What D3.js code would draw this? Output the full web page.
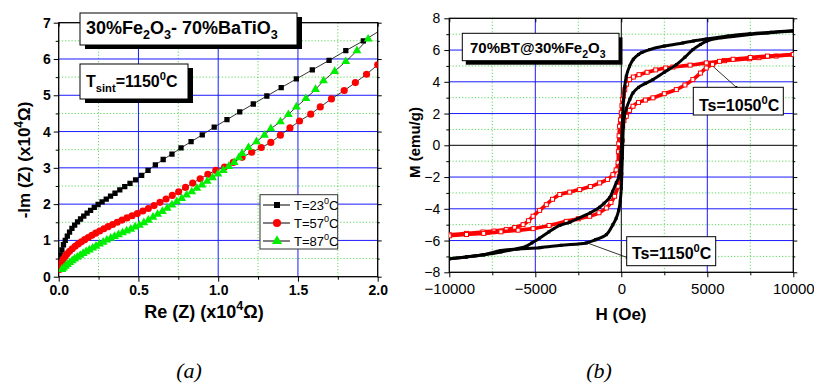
<!DOCTYPE html>
<html>
<head>
<meta charset="utf-8">
<script src="https://cdn.jsdelivr.net/npm/d3@7"></script>
<style>
  body { margin: 0; background: #fff; }
  svg { display: block; }
  svg text { font-family: "Liberation Sans", Arial, Helvetica, sans-serif; }
</style>
</head>
<body>
<svg id="fig" width="814" height="385"></svg>
<script>
// ---------- panel (a): impedance, x in 1e4 ohm ----------
const zTicksX = [0, 0.5, 1.0, 1.5, 2.0];
const zMinorX = [0.25, 0.75, 1.25, 1.75];
const zTicksY = [0, 1, 2, 3, 4, 5, 6, 7];
const zMinorY = [0.5, 1.5, 2.5, 3.5, 4.5, 5.5, 6.5];

const t23 = [[0.002,0.32],[0.006,0.45],[0.012,0.6],[0.02,0.74],[0.03,0.88],[0.041,1.0],[0.054,1.12],
  [0.068,1.23],[0.083,1.33],[0.1,1.42],[0.118,1.51],[0.137,1.59],[0.157,1.67],[0.178,1.75],[0.2,1.83],
  [0.223,1.91],[0.247,1.99],[0.272,2.06],[0.298,2.14],[0.325,2.22],[0.353,2.3],[0.383,2.39],[0.414,2.48],
  [0.447,2.57],[0.482,2.67],[0.52,2.79],[0.56,2.93],[0.606,3.08],[0.655,3.23],[0.71,3.38],[0.767,3.55],
  [0.83,3.72],[0.9,3.91],[0.975,4.12],[1.055,4.33],[1.135,4.54],[1.22,4.76],[1.305,4.98],[1.395,5.21],
  [1.49,5.45],[1.59,5.7],[1.695,5.96],[1.8,6.23],[1.91,6.5],[2.02,6.8]];
const t57 = [[0.005,0.2],[0.01,0.3],[0.018,0.4],[0.028,0.48],[0.04,0.56],[0.053,0.63],[0.068,0.7],
  [0.085,0.77],[0.103,0.84],[0.122,0.9],[0.142,0.96],[0.163,1.02],[0.185,1.08],[0.208,1.14],[0.232,1.2],
  [0.257,1.26],[0.283,1.32],[0.31,1.38],[0.338,1.44],[0.367,1.5],[0.397,1.56],[0.428,1.62],[0.46,1.68],
  [0.493,1.74],[0.527,1.81],[0.562,1.88],[0.598,1.96],[0.635,2.05],[0.673,2.14],[0.712,2.24],[0.752,2.34],
  [0.795,2.46],[0.84,2.58],[0.887,2.7],[0.935,2.82],[0.985,2.93],[1.04,3.02],[1.094,3.15],[1.15,3.29],
  [1.21,3.43],[1.27,3.56],[1.33,3.7],[1.39,3.9],[1.45,4.1],[1.51,4.29],[1.58,4.48],[1.64,4.68],
  [1.71,4.9],[1.79,5.13],[1.86,5.35],[1.93,5.58],[2.0,5.84]];
const t87 = [[0.02,0.2],[0.03,0.24],[0.042,0.29],[0.055,0.34],[0.07,0.39],[0.085,0.44],[0.1,0.49],
  [0.117,0.54],[0.135,0.59],[0.153,0.64],[0.172,0.69],[0.192,0.74],[0.213,0.79],[0.234,0.84],[0.256,0.9],
  [0.279,0.95],[0.302,1.01],[0.326,1.06],[0.35,1.11],[0.375,1.16],[0.4,1.21],[0.426,1.26],[0.452,1.31],
  [0.479,1.37],[0.506,1.42],[0.534,1.49],[0.562,1.56],[0.591,1.64],[0.62,1.72],[0.65,1.8],[0.68,1.89],
  [0.71,1.98],[0.74,2.07],[0.771,2.16],[0.802,2.25],[0.834,2.34],[0.866,2.44],[0.898,2.53],[0.931,2.63],
  [0.964,2.73],[0.998,2.83],[1.032,2.93],[1.066,3.04],[1.1,3.15],[1.13,3.28],[1.15,3.4],[1.19,3.56],
  [1.24,3.72],[1.29,3.9],[1.33,4.08],[1.39,4.27],[1.44,4.47],[1.49,4.68],[1.55,4.91],[1.61,5.16],
  [1.66,5.4],[1.73,5.66],[1.8,5.93],[1.87,6.23],[1.94,6.55]];

// ---------- panel (b): M-H loops ----------
const hTicks = [-10000, -5000, 0, 5000, 10000];
const hMinor = [-7500, -2500, 2500, 7500];
const mTicks = [-8, -6, -4, -2, 0, 2, 4, 6, 8];
const mMinor = [-7, -5, -3, -1, 1, 3, 5, 7];

const black1150Down = [[10000,7.22],[8700,7.12],[7460,7.02],[6200,6.88],[4940,6.69],[4200,6.57],[3580,6.45],
  [2500,6.25],[1650,6.03],[1200,5.85],[1000,5.72],[700,5.42],[480,4.98],[290,4.35],[200,3.7],
  [130,2.9],[90,2.0],[60,1.2],[30,0.4],[0,-0.4],[-30,-1.0],[-70,-1.6],[-130,-2.0],[-290,-2.35],
  [-500,-2.9],[-680,-3.3],[-1000,-3.65],[-1260,-3.9],[-1800,-4.25],[-2500,-4.6],[-3000,-4.85],
  [-3580,-5.05],[-4200,-5.45],[-4750,-5.85],[-5200,-6.15],[-5530,-6.36],[-6000,-6.5],[-7000,-6.72],
  [-8000,-6.9],[-9000,-7.03],[-10000,-7.15]];
const black1150Up = [[-10000,-7.15],[-9000,-7.03],[-8000,-6.9],[-7000,-6.63],[-6000,-6.53],[-4750,-6.45],
  [-3500,-6.3],[-2030,-6.15],[-1500,-5.95],[-870,-5.63],[-490,-5.0],[-300,-4.6],[-150,-4.1],[-60,-3.5],
  [0,-2.7],[30,-1.8],[60,-0.8],[90,0.3],[120,1.2],[170,1.8],[290,2.3],[500,2.9],[680,3.3],[1000,3.65],
  [1400,3.9],[1840,4.14],[2500,4.6],[3200,5.08],[3700,5.55],[4160,6.03],[4600,6.35],[4940,6.55],
  [5500,6.72],[6500,6.86],[7500,6.98],[8500,7.08],[10000,7.2]];
const red1050Down = [[10000,5.72],[9000,5.62],[8000,5.52],[7460,5.45],[6000,5.33],[4940,5.19],[4000,5.05],
  [3000,4.93],[2580,4.87],[2000,4.75],[1500,4.6],[1030,4.45],[700,4.3],[480,4.14],[300,3.85],[200,3.5],
  [120,3.1],[80,2.9],[40,2.5],[0,2.05],[-50,1.6],[-100,1.2],[-130,0.6],[-150,0.1],[-170,-0.4],
  [-190,-1.1],[-300,-1.55],[-490,-1.85],[-800,-2.15],[-1260,-2.37],[-1800,-2.6],[-2420,-2.79],
  [-3000,-2.95],[-3580,-3.1],[-4000,-3.4],[-4360,-3.74],[-4750,-4.1],[-5130,-4.47],[-5400,-4.75],
  [-5710,-5.0],[-6200,-5.18],[-6690,-5.31],[-7400,-5.4],[-8040,-5.46],[-9000,-5.55],[-10000,-5.63]];
const red1050Up = [[-10000,-5.7],[-9000,-5.62],[-8000,-5.55],[-7000,-5.45],[-6000,-5.35],[-5130,-5.25],
  [-4200,-5.05],[-3200,-4.79],[-2500,-4.63],[-1840,-4.47],[-1300,-4.25],[-870,-3.95],[-600,-3.6],
  [-390,-3.21],[-190,-2.58],[-100,-1.95],[-50,-1.3],[0,-0.5],[40,0.3],[80,1.2],[150,1.55],[290,1.83],
  [480,2.2],[680,2.46],[1000,2.7],[1400,2.85],[1840,2.99],[2500,3.25],[3200,3.51],[3700,3.8],
  [4160,4.14],[4600,4.55],[4940,4.87],[5300,5.1],[5710,5.29],[6500,5.42],[7500,5.53],[8500,5.62],
  [10000,5.72]];

const svg = d3.select('#fig');

// superscript / subscript helper: parts = [[text, shift]] shift: 0 normal, 1 sup, -1 sub
function rich(text, parts, size) {
  let cur = 0;
  parts.forEach(([t, s]) => {
    const target = s === 1 ? -size * 0.42 : s === -1 ? size * 0.3 : 0;
    text.append('tspan')
      .attr('dy', target - cur)
      .attr('font-size', s ? size * 0.7 : size)
      .text(t);
    cur = target;
  });
  return text;
}

function labelBox(g, x, y, w, h, shadow) {
  if (shadow) {
    g.append('rect').attr('x', x + shadow[0]).attr('y', y + shadow[1])
      .attr('width', w).attr('height', h).attr('fill', '#000');
  }
  g.append('rect').attr('x', x).attr('y', y).attr('width', w).attr('height', h)
    .attr('fill', '#fff').attr('stroke', '#000').attr('stroke-width', 1);
}

function frame(g, x, y, opt) {
  const [x0, x1] = x.range(), [y0, y1] = y.range();
  // minor grid
  opt.xMinor.forEach(v => g.append('line').attr('x1', x(v)).attr('x2', x(v)).attr('y1', y0).attr('y2', y1)
    .attr('stroke', '#33cc33').attr('stroke-width', 0.8).attr('stroke-dasharray', '1.2,2'));
  opt.yMinor.forEach(v => g.append('line').attr('x1', x0).attr('x2', x1).attr('y1', y(v)).attr('y2', y(v))
    .attr('stroke', '#33cc33').attr('stroke-width', 0.8).attr('stroke-dasharray', '1.2,2'));
  // major grid
  opt.xMajor.slice(1, -1).forEach(v => g.append('line').attr('x1', x(v)).attr('x2', x(v)).attr('y1', y0).attr('y2', y1)
    .attr('stroke', v === 0 && opt.zero ? '#000' : '#1a1aff').attr('stroke-width', 1));
  opt.yMajor.slice(1, -1).forEach(v => g.append('line').attr('x1', x0).attr('x2', x1).attr('y1', y(v)).attr('y2', y(v))
    .attr('stroke', v === 0 && opt.zero ? '#000' : '#1a1aff').attr('stroke-width', 1));

  const ax = (gen, vals, size, fmt, tr, pad, fs) => {
    const a = g.append('g').attr('transform', tr)
      .call(gen.tickValues(vals).tickSize(size).tickSizeOuter(0).tickPadding(pad || 3).tickFormat(fmt));
    a.attr('font-family', null).attr('font-size', null);
    a.select('.domain').remove();
    a.selectAll('line').attr('stroke', '#000');
    a.selectAll('text').attr('fill', '#000')
      .attr('font-size', fs || opt.fontSize).attr('font-weight', opt.weight);
    return a;
  };
  ax(d3.axisBottom(x), opt.xMajor, 5, opt.xFmt, `translate(0,${y0})`, opt.xPad);
  ax(d3.axisBottom(x), opt.xMinor, 3, '', `translate(0,${y0})`);
  ax(d3.axisLeft(y), opt.yMajor, 5, opt.yFmt, `translate(${x0},0)`, opt.yPad, opt.yFontSize);
  ax(d3.axisLeft(y), opt.yMinor, 3, '', `translate(${x0},0)`);
  // mirrored ticks on top/right, inward
  ax(d3.axisBottom(x), opt.xMajor, 4, '', `translate(0,${y1})`);
  ax(d3.axisLeft(y), opt.yMajor, -4, '', `translate(${x1},0)`);
  ax(d3.axisLeft(y), opt.yMinor, -2, '', `translate(${x1},0)`);

  g.append('rect').attr('x', x0).attr('y', y1).attr('width', x1 - x0).attr('height', y0 - y1)
    .attr('fill', 'none').attr('stroke', '#000').attr('stroke-width', 1.3);
}

// ===================== panel (a) =====================
const ga = svg.append('g');
const xa = d3.scaleLinear().domain([0, 2]).range([58.7, 377.7]);
const ya = d3.scaleLinear().domain([0, 7]).range([276.7, 22.7]);

frame(ga, xa, ya, {
  xMajor: zTicksX, xMinor: zMinorX, yMajor: zTicksY, yMinor: zMinorY,
  xFmt: d3.format('.1f'), yFmt: d3.format('d'), fontSize: 14, weight: 'bold', xPad: 3, yPad: 3
});

svg.append('clipPath').attr('id', 'clipA').append('rect')
  .attr('x', 58.7).attr('y', 22.7).attr('width', 319).attr('height', 254);
const pa = ga.append('g').attr('clip-path', 'url(#clipA)');
const lineA = d3.line().x(d => xa(d[0])).y(d => ya(d[1]));

const seriesA = [
  { data: t23, color: '#000', shape: d3.symbolSquare, size: 28, name: '23' },
  { data: t57, color: '#ff0000', shape: d3.symbolCircle, size: 40, name: '57' },
  { data: t87, color: '#00ee00', shape: d3.symbolTriangle, size: 34, name: '87' }
];
seriesA.forEach(s => {
  pa.append('path').datum(s.data).attr('d', lineA)
    .attr('fill', 'none').attr('stroke', '#000').attr('stroke-width', 0.8);
});
seriesA.forEach(s => {
  pa.selectAll(null).data(s.data).join('path')
    .attr('transform', d => `translate(${xa(d[0])},${ya(d[1])})`)
    .attr('d', d3.symbol(s.shape, s.size))
    .attr('fill', s.color);
});

// legend
const lg = ga.append('g');
lg.append('rect').attr('x', 260).attr('y', 194.7).attr('width', 77.7).attr('height', 54.3)
  .attr('fill', '#fff').attr('stroke', '#333').attr('stroke-width', 1);
seriesA.forEach((s, i) => {
  const yy = 205 + i * 18;
  lg.append('line').attr('x1', 263).attr('x2', 290).attr('y1', yy).attr('y2', yy)
    .attr('stroke', '#000').attr('stroke-width', 1);
  lg.append('path').attr('transform', `translate(277,${yy})`)
    .attr('d', d3.symbol(s.shape, s.size * 1.3)).attr('fill', s.color);
  rich(lg.append('text').attr('x', 294).attr('y', yy + 4.5), [['T=' + s.name, 0], ['0', 1], ['C', 0]], 13);
});

// text boxes
labelBox(ga, 80, 13, 217, 32, [5, 4]);
rich(ga.append('text').attr('x', 86).attr('y', 34).attr('font-weight', 'bold'),
  [['30%Fe', 0], ['2', -1], ['O', 0], ['3', -1], ['- 70%BaTiO', 0], ['3', -1]], 18);
labelBox(ga, 80, 64, 108, 35, [5, 4]);
rich(ga.append('text').attr('x', 86).attr('y', 87).attr('font-weight', 'bold'),
  [['T', 0], ['sint', -1], ['=1150', 0], ['0', 1], ['C', 0]], 16);

// axis titles
rich(ga.append('text').attr('x', 204).attr('y', 318).attr('text-anchor', 'middle').attr('font-weight', 'bold'),
  [['Re (Z) (x10', 0], ['4', 1], ['Ω)', 0]], 18);
rich(ga.append('text').attr('transform', 'translate(30,160) rotate(-90)').attr('text-anchor', 'middle')
  .attr('font-weight', 'bold'), [['-Im (Z) (x10', 0], ['4', 1], ['Ω)', 0]], 17);

// ===================== panel (b) =====================
const gb = svg.append('g');
const xb = d3.scaleLinear().domain([-10000, 10000]).range([449.3, 793.3]);
const yb = d3.scaleLinear().domain([-8, 8]).range([272.3, 18.3]);

frame(gb, xb, yb, {
  xMajor: hTicks, xMinor: hMinor, yMajor: mTicks, yMinor: mMinor,
  xFmt: d3.format('d'), yFmt: d3.format('d'), fontSize: 15, yFontSize: 14, weight: 'normal',
  zero: true, xPad: 6, yPad: 4
});

svg.append('clipPath').attr('id', 'clipB').append('rect')
  .attr('x', 449.3).attr('y', 18.3).attr('width', 344).attr('height', 254);
const pb = gb.append('g').attr('clip-path', 'url(#clipB)');
const lineB = d3.line().x(d => xb(d[0])).y(d => yb(d[1])).curve(d3.curveCatmullRom.alpha(0.5));

[[red1050Down, red1050Up], [black1150Down, black1150Up]].forEach((loop, k) => {
  const col = k === 0 ? '#ff0000' : '#000';
  loop.forEach(br => {
    pb.append('path').datum(br).attr('d', lineB).attr('fill', 'none')
      .attr('stroke', col).attr('stroke-width', k === 0 ? 3.6 : 3).attr('stroke-linejoin', 'round');
    pb.selectAll(null).data(br).join('rect')
      .attr('x', d => xb(d[0]) - (k === 0 ? 2 : 1.5))
      .attr('y', d => yb(d[1]) - (k === 0 ? 2 : 1.5))
      .attr('width', k === 0 ? 4 : 3).attr('height', k === 0 ? 4 : 3)
      .attr('fill', k === 0 ? '#fff' : '#000').attr('stroke', col).attr('stroke-width', k === 0 ? 1 : 0);
  });
});

// annotations
labelBox(gb, 462.3, 33.3, 156.7, 27.4, [3.5, 4]);
rich(gb.append('text').attr('x', 470).attr('y', 53).attr('font-weight', 'bold'),
  [['70%BT@30%Fe', 0], ['2', -1], ['O', 0], ['3', -1]], 15);

svg.append('defs').append('marker').attr('id', 'arr').attr('viewBox', '0 0 10 10')
  .attr('refX', 9).attr('refY', 5).attr('markerWidth', 5).attr('markerHeight', 5).attr('orient', 'auto')
  .append('path').attr('d', 'M0,1L10,5L0,9Z').attr('fill', '#000');

gb.append('line').attr('x1', 713.3).attr('y1', 66.7).attr('x2', 738.3).attr('y2', 89)
  .attr('stroke', '#000').attr('stroke-width', 0.8).attr('marker-end', 'url(#arr)');
labelBox(gb, 693.3, 87.3, 90, 27.7, null);
rich(gb.append('text').attr('x', 699).attr('y', 111).attr('font-weight', 'bold'),
  [['Ts=1050', 0], ['0', 1], ['C', 0]], 16);

gb.append('line').attr('x1', 586.7).attr('y1', 242.7).attr('x2', 629.3).attr('y2', 258.3)
  .attr('stroke', '#000').attr('stroke-width', 0.8).attr('marker-end', 'url(#arr)');
labelBox(gb, 626.7, 236.7, 89, 29, null);
rich(gb.append('text').attr('x', 632).attr('y', 259).attr('font-weight', 'bold'),
  [['Ts=1150', 0], ['0', 1], ['C', 0]], 16);

gb.append('text').attr('x', 621).attr('y', 320).attr('text-anchor', 'middle')
  .attr('font-weight', 'bold').attr('font-size', 17).text('H (Oe)');
gb.append('text').attr('transform', 'translate(420,142.5) rotate(-90)').attr('text-anchor', 'middle')
  .attr('font-weight', 'bold').attr('font-size', 15).text('M (emu/g)');

// panel letters
[['(a)', 189], ['(b)', 599]].forEach(([t, x]) => {
  svg.append('text').attr('x', x).attr('y', 378).attr('text-anchor', 'middle')
    .style('font-family', '"Liberation Serif", "Times New Roman", serif').attr('font-style', 'italic')
    .attr('font-size', 22).text(t);
});
</script>
</body>
</html>
